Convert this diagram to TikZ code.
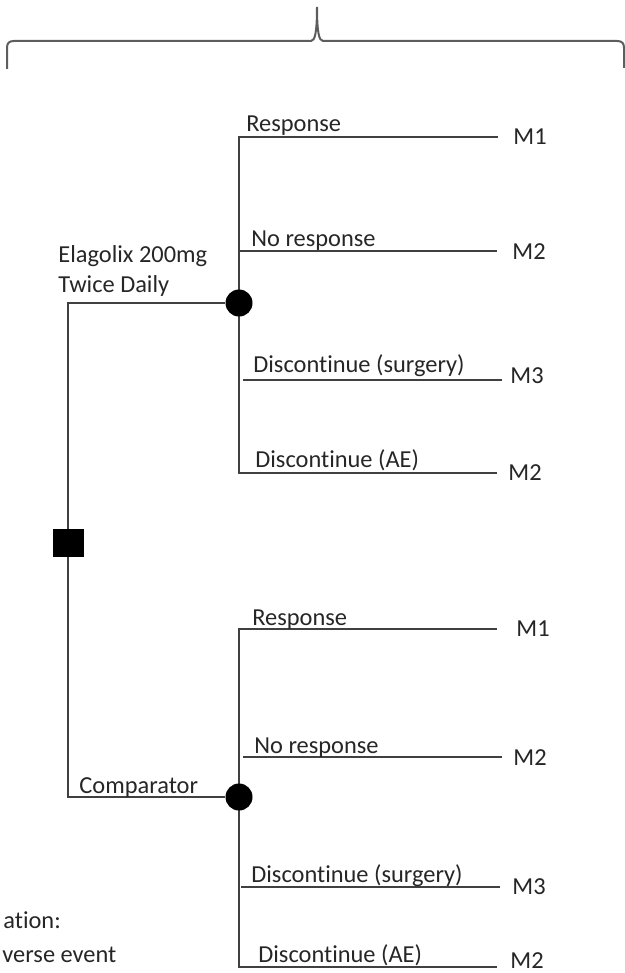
\documentclass[tikz,border=0pt]{standalone}
\usepackage{fontspec}
\setmainfont[Ligatures=NoCommon]{Carlito}
\usepackage{tikz}
\usetikzlibrary{positioning,calc}

\definecolor{inkline}{HTML}{404040}
\definecolor{inktext}{HTML}{262626}

\begin{document}
\begin{tikzpicture}[
  x=0.5pt, y=-0.5pt,
  branch/.style={draw=inkline, line width=1pt},
  brace/.style={draw=inkline!85, line width=1pt},
  chance/.style={circle, fill=black, inner sep=0pt, minimum size=13.5pt},
  decision/.style={rectangle, fill=black, inner sep=0pt, minimum width=15.5pt, minimum height=14pt},
  lbl/.style={anchor=base west, inner sep=0pt, text=inktext},
  every node/.style={font=\fontsize{12.2}{14.6}\selectfont}
]
\useasboundingbox (0,0) rectangle (625,973);

% brace over the tree
\draw[brace] (7,69) -- (7,48) .. controls (7,43) and (9,41) .. (14,41) -- (311,41)
  .. controls (315,41) and (317,32) .. (317,7)
  .. controls (317,32) and (319,41) .. (323,41) -- (617,41)
  .. controls (622,41) and (624,43) .. (624,48) -- (624,68);

% decision and chance nodes
\node[decision] (dec) at (68,543) {};
\coordinate (tA) at (68,303);
\coordinate (tB) at (68,797);

% upper arm
\coordinate (a1) at (239,137); \coordinate (a1e) at (498,137);
\coordinate (a2) at (239,251); \coordinate (a2e) at (497,251);
\coordinate (a3) at (243,380); \coordinate (a3e) at (502,380);
\coordinate (a4) at (239,473); \coordinate (a4e) at (497,473);
\draw[branch] (a1e) -- (a1) -- (a4) -- (a4e);
\draw[branch] (a2) -- (a2e);
\draw[branch] (a3) -- (a3e);

% lower arm
\coordinate (b1) at (239,629); \coordinate (b1e) at (497,629);
\coordinate (b2) at (243,757); \coordinate (b2e) at (502,757);
\coordinate (b3) at (241,887); \coordinate (b3e) at (500,887);
\coordinate (b4) at (239,967); \coordinate (b4e) at (497,967);
\draw[branch] (b1e) -- (b1) -- (b4) -- (b4e);
\draw[branch] (b2) -- (b2e);
\draw[branch] (b3) -- (b3e);

\node[chance] (cA) at (239,303) {};
\node[chance] (cB) at (239,797) {};
\draw[branch] (dec) -- (tA) -- (cA);
\draw[branch] (dec) -- (tB) -- (cB);

% arm labels
\node[lbl] (armA) at (58,263) {Elagolix 200mg};
\node[lbl] (armA2) at (58,292) {Twice Daily};
\node[lbl] (armB) at (79,793) {Comparator};

% outcome labels
\node[lbl] (oA1) at (246,132) {Response};
\node[lbl] (oA2) at (251,246) {No response};
\node[lbl] (oA3) at (253,372) {Discontinue (surgery)};
\node[lbl] (oA4) at (255,467) {Discontinue (AE)};
\node[lbl] (oB1) at (252,625) {Response};
\node[lbl] (oB2) at (254,753) {No response};
\node[lbl] (oB3) at (251,882) {Discontinue (surgery)};
\node[lbl] (oB4) at (258,962) {Discontinue (AE)};

% health states
\node[lbl] (mA1) at (513,145) {M1};
\node[lbl] (mA2) at (512,259) {M2};
\node[lbl] (mA3) at (510,383) {M3};
\node[lbl] (mA4) at (508,480) {M2};
\node[lbl] (mB1) at (516,636) {M1};
\node[lbl] (mB2) at (513,765) {M2};
\node[lbl] (mB3) at (512,894) {M3};
\node[lbl] (mB4) at (510,968) {M2};

% abbreviations (cut at the left edge)
\node[lbl] (abbr1) at (3,928) {ation:};
\node[lbl] (abbr2) at (2,962) {verse event};

\end{tikzpicture}
\end{document}
